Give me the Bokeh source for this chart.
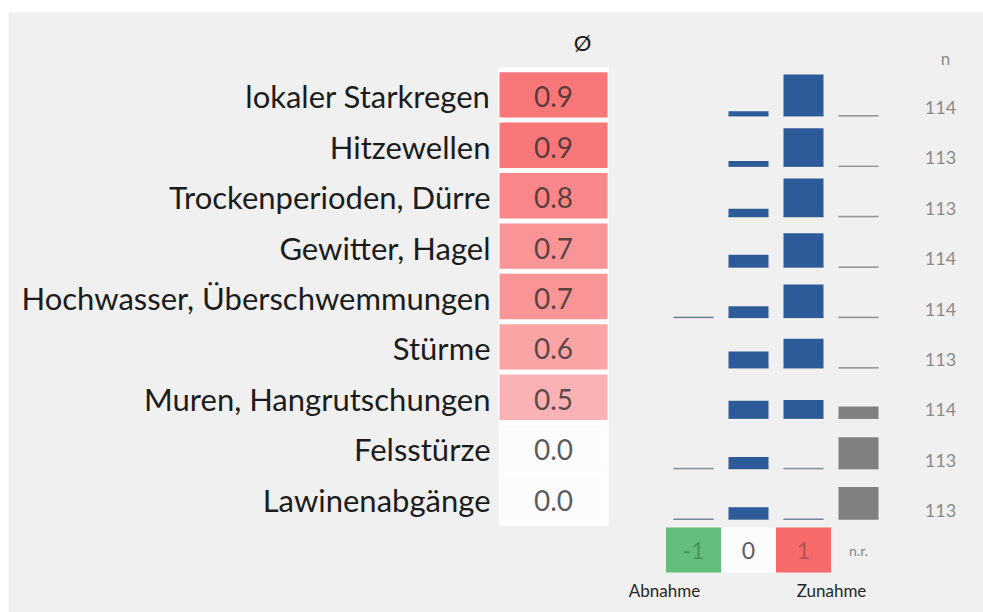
from bokeh.plotting import figure
from bokeh.models import ColumnDataSource, Range1d
from bokeh.transform import linear_cmap
from bokeh.core.properties import value
from bokeh.embed import file_html
from bokeh.resources import INLINE

# ---------------- data ----------------
categories = ["lokaler Starkregen", "Hitzewellen", "Trockenperioden, Dürre",
              "Gewitter, Hagel", "Hochwasser, Überschwemmungen", "Stürme",
              "Muren, Hangrutschungen", "Felsstürze", "Lawinenabgänge"]
mean_values = [0.9, 0.9, 0.8, 0.7, 0.7, 0.6, 0.5, 0.0, 0.0]
share_minus = [0, 0, 0, 0, 1, 0, 0, 1, 1]          # % Abnahme (-1)
share_zero = [11, 12, 18, 27, 25, 36, 38, 26, 26]   # % 0
share_plus = [89, 82, 82, 73, 71, 63, 40, 1, 1]     # % Zunahme (+1)
share_nr = [1, 1, 1, 1, 1, 1, 26, 68, 69]           # % n.r.
n_values = [114, 113, 113, 114, 114, 113, 114, 113, 113]
legend_values = [-1, 0, 1]
legend_labels = ["-1", "0", "1"]
column_keys = ["-1", "0", "1", "n.r."]

# ---------------- styles / layout ----------------
FONT = "Lato"
BG = "#f0f0f0"
BLUE = "#2d5b99"
GREY = "#808080"
W, H = 983, 612
LEFT, TOP = 8, 12          # white strip left / top of the grey panel
ROW_PX = 50.4
ROW0_PAGE = 94.4           # page y of first row centre


def page_y(py):
    return (py - ROW0_PAGE) / ROW_PX


def page_x(px):
    return px - LEFT


LABEL_X = page_x(490)
CELL_X = page_x(553)
COL_X = {"-1": page_x(693), "0": page_x(748), "1": page_x(803), "n.r.": page_x(858)}
N_X = page_x(940)
BASE_OFF = 0.425
PCT_SCALE = 47.0 / ROW_PX / 100.0


def lerp_hex(c1, c2, t):
    a = [int(c1[i:i + 2], 16) for i in (1, 3, 5)]
    b = [int(c2[i:i + 2], 16) for i in (1, 3, 5)]
    return "#%02x%02x%02x" % tuple(round(a[k] + (b[k] - a[k]) * t) for k in range(3))


GREEN_C, WHITE_C, RED_C = "#63be7b", "#fcfcff", "#f8696b"
palette = [lerp_hex(GREEN_C, WHITE_C, i / 100) for i in range(100)] + \
          [lerp_hex(WHITE_C, RED_C, i / 100) for i in range(101)]

rows = list(range(len(categories)))

p = figure(width=W, height=H, x_range=Range1d(0, W - LEFT),
           y_range=Range1d(page_y(H), page_y(TOP)),
           output_backend="svg", toolbar_location=None,
           x_axis_location=None, y_axis_location=None,
           min_border_left=LEFT, min_border_top=TOP, min_border_right=0,
           min_border_bottom=0,
           background_fill_color=BG, border_fill_color="white", outline_line_color=None)
p.grid.visible = False

# category labels
lab_src = ColumnDataSource(dict(y=[r + 0.03 for r in rows], text=categories,
                                x=[LABEL_X] * len(rows)))
p.text(x="x", y="y", text="text", source=lab_src, text_align="right",
       text_baseline="middle", text_font=value(FONT), text_font_size="31px",
       text_color="#1c1c1c")

# mean heat cells (white block behind, cells separated by white gaps)
p.rect(x=[CELL_X], y=[(rows[0] + rows[-1]) / 2], width=110,
       height=len(rows) + 0.1, fill_color="white", line_color=None)
cell_src = ColumnDataSource(dict(y=rows, x=[CELL_X] * len(rows), m=mean_values,
                                 txt=["%.1f" % v for v in mean_values]))
p.rect(x="x", y="y", width=108, height=45.4 / ROW_PX, source=cell_src,
       fill_color=linear_cmap("m", palette, -1, 1), line_color=None)
p.text(x="x", y="y", text="txt", source=cell_src, y_offset=2, text_align="center",
       text_baseline="middle", text_font=value(FONT), text_font_size="28px",
       text_color="#262626", text_alpha=0.75)

p.text(x=[page_x(582)], y=[page_y(42)], text=["Ø"], text_align="center",
       text_baseline="middle", text_font=value(FONT), text_font_size="22px",
       text_color="#1c1c1c")

# distribution bars
shares = {"-1": share_minus, "0": share_zero, "1": share_plus, "n.r.": share_nr}
bx, bb, bt, bc, lx0, lx1, ly = [], [], [], [], [], [], []
for key in column_keys:
    for r, s in zip(rows, shares[key]):
        if s <= 0:
            continue
        base = r + BASE_OFF
        bx.append(COL_X[key])
        bb.append(base)
        bt.append(base - s * PCT_SCALE)
        bc.append(GREY if key == "n.r." else BLUE)
        lx0.append(COL_X[key] - 20)
        lx1.append(COL_X[key] + 20)
        ly.append(base - 0.01)

p.segment(x0=lx0, y0=ly, x1=lx1, y1=ly, line_color="#a3a3a3", line_width=1.6)
p.vbar(x=bx, bottom=bb, top=bt, width=40, fill_color=bc, line_color=None)

# n column
p.text(x=[N_X + 5], y=[page_y(58)], text=["n"], text_align="center",
       text_baseline="middle", text_font=value(FONT), text_font_size="17px",
       text_color="#8a8a8a")
p.text(x=[N_X] * len(rows), y=[r + 0.25 for r in rows], text=[str(v) for v in n_values],
       text_align="center", text_baseline="middle", text_font=value(FONT),
       text_font_size="18px", text_color="#8a8a8a")

# legend
ly_leg = page_y(549.5)
leg_src = ColumnDataSource(dict(x=[COL_X[k] for k in ["-1", "0", "1"]],
                                y=[ly_leg] * 3, v=legend_values, txt=legend_labels,
                                a=[0.35, 0.75, 0.35]))
p.rect(x="x", y="y", width=55, height=45 / ROW_PX, source=leg_src,
       fill_color=linear_cmap("v", palette, -1, 1), line_color=None)
p.text(x="x", y="y", text="txt", source=leg_src, text_align="center",
       text_baseline="middle", text_font=value(FONT), text_font_size="23px",
       text_color="#262626", text_alpha="a")
p.text(x=[COL_X["n.r."]], y=[ly_leg], text=["n.r."], text_align="center",
       text_baseline="middle", text_font=value(FONT), text_font_size="14px",
       text_color="#8a8a8a")
p.text(x=[page_x(664), page_x(831)], y=[page_y(590)] * 2, text=["Abnahme", "Zunahme"],
       text_align="center", text_baseline="middle", text_font=value(FONT),
       text_font_size="17px", text_color="#262626")

open("out.html", "w").write(file_html(p, INLINE))
